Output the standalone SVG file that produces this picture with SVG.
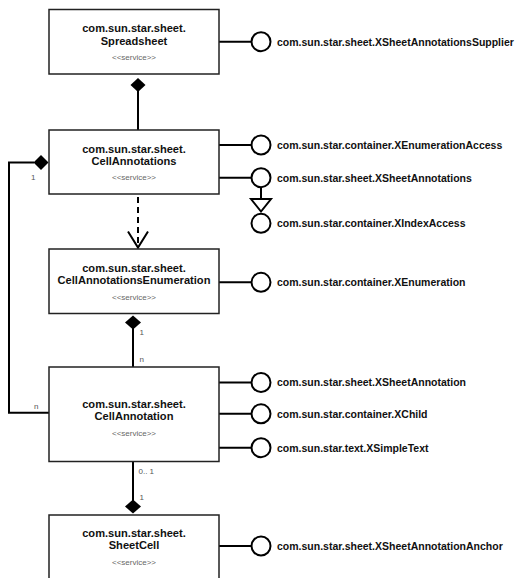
<svg xmlns="http://www.w3.org/2000/svg" width="516" height="578" viewBox="0 0 516 578">
<style>
.box{fill:#fff;stroke:#222;stroke-width:1.5}
.ln{fill:none;stroke:#000;stroke-width:2}
.dash{fill:none;stroke:#000;stroke-width:2;stroke-dasharray:6 4}
.ci{fill:#fff;stroke:#000;stroke-width:2}
.dia{fill:#000}
.t{font-family:"Liberation Sans",Arial,sans-serif;font-weight:bold;font-size:11.1px;fill:#111;text-anchor:middle}
.s{font-family:"Liberation Sans",Arial,sans-serif;font-size:8px;fill:#666;text-anchor:middle}
.i{font-family:"Liberation Sans",Arial,sans-serif;font-weight:bold;font-size:10.5px;fill:#111}
.m{font-family:"Liberation Sans",Arial,sans-serif;font-size:8px;fill:#555}
</style>
<rect width="516" height="578" fill="#fff"/>
<g id="connectors">
<!-- Spreadsheet to CellAnnotations composition -->
<line class="ln" x1="138" y1="91" x2="138" y2="130"/>
<polygon class="dia" points="138,78 145.5,85 138,92 130.5,85"/>
<!-- dashed dependency -->
<line class="dash" x1="138" y1="197" x2="138" y2="246"/>
<polyline class="ln" points="128,231.5 138,247.5 148,231.5"/>
<!-- CellAnnotationsEnumeration to CellAnnotation -->
<line class="ln" x1="133" y1="328" x2="133" y2="367"/>
<polygon class="dia" points="133,315.5 141,322.5 133,329.5 125,322.5"/>
<!-- CellAnnotation to SheetCell -->
<line class="ln" x1="133" y1="461.5" x2="133" y2="501"/>
<polygon class="dia" points="133,499.5 141,506.5 133,513.5 125,506.5"/>
<!-- CellAnnotations to CellAnnotation left loop -->
<polyline class="ln" points="34,162.5 9,162.5 9,412.7 49,412.7"/>
<polygon class="dia" points="33.5,162.5 41,155 48.5,162.5 41,170"/>
<!-- interface lollipops -->
<line class="ln" x1="219" y1="41.7" x2="252" y2="41.7"/>
<line class="ln" x1="219" y1="145" x2="252" y2="145"/>
<line class="ln" x1="219" y1="177.7" x2="252" y2="177.7"/>
<line class="ln" x1="261" y1="187" x2="261" y2="199"/>
<polygon class="ci" points="251,199 271,199 261,211.5"/>
<line class="ln" x1="219" y1="282.3" x2="252" y2="282.3"/>
<line class="ln" x1="219" y1="382.5" x2="252" y2="382.5"/>
<line class="ln" x1="219" y1="413.8" x2="252" y2="413.8"/>
<line class="ln" x1="219" y1="447.7" x2="252" y2="447.7"/>
<line class="ln" x1="219" y1="546" x2="252" y2="546"/>
<!-- multiplicities -->
<text class="m" x="31" y="179.5">1</text>
<text class="m" x="34" y="409">n</text>
<text class="m" x="139.5" y="335">1</text>
<text class="m" x="139.5" y="362">n</text>
<text class="m" x="138.5" y="474">0.. 1</text>
<text class="m" x="139.5" y="499.5">1</text>
</g>
<g id="Spreadsheet">
<rect class="box" x="49" y="9.5" width="170" height="64.5"/>
<text class="t" x="134" y="32.3">com.sun.star.sheet.</text>
<text class="t" x="134" y="44.8">Spreadsheet</text>
<text class="s" x="134" y="59.5">&lt;&lt;service&gt;&gt;</text>
</g>
<g id="XSheetAnnotationsSupplier">
<circle class="ci" cx="261" cy="41.7" r="9.5"/>
<text class="i" x="277" y="45.5">com.sun.star.sheet.XSheetAnnotationsSupplier</text>
</g>
<g id="CellAnnotations">
<rect class="box" x="49" y="130" width="170" height="64"/>
<text class="t" x="134" y="152.5">com.sun.star.sheet.</text>
<text class="t" x="134" y="164.5">CellAnnotations</text>
<text class="s" x="134" y="180">&lt;&lt;service&gt;&gt;</text>
</g>
<g id="XEnumerationAccess">
<circle class="ci" cx="261" cy="145" r="9.5"/>
<text class="i" x="277" y="148.8">com.sun.star.container.XEnumerationAccess</text>
</g>
<g id="XSheetAnnotations">
<circle class="ci" cx="261" cy="177.7" r="9.5"/>
<text class="i" x="277" y="181.5">com.sun.star.sheet.XSheetAnnotations</text>
</g>
<g id="XIndexAccess">
<circle class="ci" cx="261" cy="223.3" r="9.5"/>
<text class="i" x="277" y="227.1">com.sun.star.container.XIndexAccess</text>
</g>
<g id="CellAnnotationsEnumeration">
<rect class="box" x="49" y="249" width="170" height="64.5"/>
<text class="t" x="134" y="272.3">com.sun.star.sheet.</text>
<text class="t" x="134" y="284.3">CellAnnotationsEnumeration</text>
<text class="s" x="134" y="299.5">&lt;&lt;service&gt;&gt;</text>
</g>
<g id="XEnumeration">
<circle class="ci" cx="261" cy="282.3" r="9.5"/>
<text class="i" x="277" y="286.1">com.sun.star.container.XEnumeration</text>
</g>
<g id="CellAnnotation">
<rect class="box" x="49" y="367" width="170" height="94.5"/>
<text class="t" x="134" y="407.7">com.sun.star.sheet.</text>
<text class="t" x="134" y="419.5">CellAnnotation</text>
<text class="s" x="134" y="435.5">&lt;&lt;service&gt;&gt;</text>
</g>
<g id="XSheetAnnotation">
<circle class="ci" cx="261" cy="382.5" r="9.5"/>
<text class="i" x="277" y="386.3">com.sun.star.sheet.XSheetAnnotation</text>
</g>
<g id="XChild">
<circle class="ci" cx="261" cy="413.8" r="9.5"/>
<text class="i" x="277" y="417.6">com.sun.star.container.XChild</text>
</g>
<g id="XSimpleText">
<circle class="ci" cx="261" cy="447.7" r="9.5"/>
<text class="i" x="277" y="451.5">com.sun.star.text.XSimpleText</text>
</g>
<g id="SheetCell">
<rect class="box" x="49" y="515" width="170" height="80"/>
<text class="t" x="134" y="537.3">com.sun.star.sheet.</text>
<text class="t" x="134" y="549.2">SheetCell</text>
<text class="s" x="134" y="564.5">&lt;&lt;service&gt;&gt;</text>
</g>
<g id="XSheetAnnotationAnchor">
<circle class="ci" cx="261" cy="546" r="9.5"/>
<text class="i" x="277" y="549.8">com.sun.star.sheet.XSheetAnnotationAnchor</text>
</g>
</svg>
